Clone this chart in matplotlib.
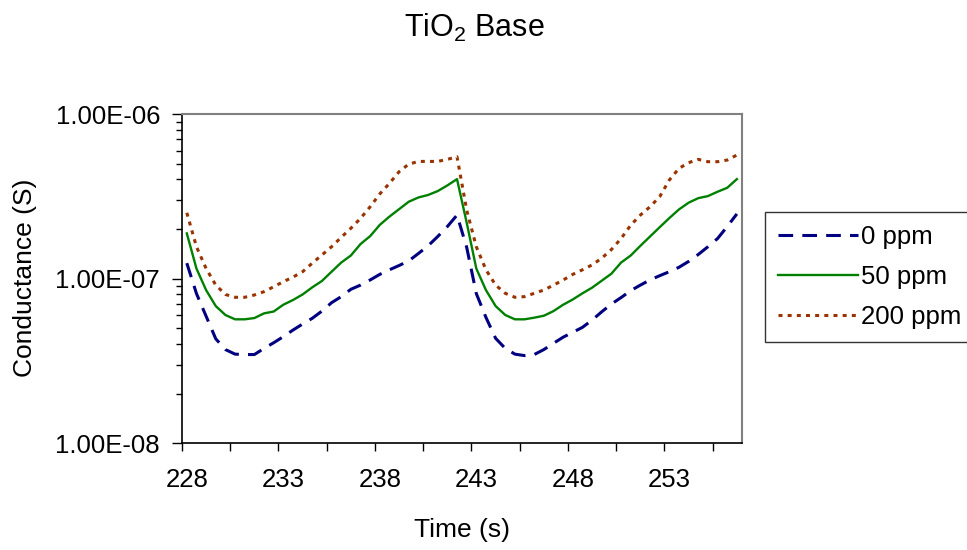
import numpy as np
import matplotlib
matplotlib.use('Agg')
import matplotlib.pyplot as plt
from matplotlib.ticker import FixedLocator, FuncFormatter, LogLocator, NullFormatter

plt.rcParams['font.family'] = ['Liberation Sans', 'DejaVu Sans']
plt.rcParams['mathtext.fontset'] = 'custom'
plt.rcParams['mathtext.rm'] = 'Liberation Sans'
plt.rcParams['mathtext.default'] = 'regular'

# time points (s), one every half second
time = [228, 228.5, 229, 229.5, 230, 230.5, 231, 231.5, 232, 232.5,
        233, 233.5, 234, 234.5, 235, 235.5, 236, 236.5, 237, 237.5,
        238, 238.5, 239, 239.5, 240, 240.5, 241, 241.5, 242, 242.5,
        243, 243.5, 244, 244.5, 245, 245.5, 246, 246.5, 247, 247.5,
        248, 248.5, 249, 249.5, 250, 250.5, 251, 251.5, 252, 252.5,
        253, 253.5, 254, 254.5, 255, 255.5, 256, 256.5]

ppm_0 = [1.24e-7, 8.1e-8, 5.9e-8, 4.3e-8, 3.7e-8, 3.47e-8, 3.45e-8, 3.45e-8, 3.76e-8, 4.07e-8,
         4.43e-8, 4.86e-8, 5.29e-8, 5.73e-8, 6.34e-8, 7.13e-8, 7.76e-8, 8.6e-8, 9.12e-8, 9.8e-8,
         1.06e-7, 1.13e-7, 1.20e-7, 1.28e-7, 1.42e-7, 1.58e-7, 1.80e-7, 2.07e-7, 2.43e-7, 1.55e-7,
         8.1e-8, 5.8e-8, 4.33e-8, 3.76e-8, 3.47e-8, 3.4e-8, 3.45e-8, 3.7e-8, 4.04e-8, 4.4e-8,
         4.71e-8, 5.05e-8, 5.59e-8, 6.28e-8, 7.0e-8, 7.66e-8, 8.44e-8, 9.12e-8, 9.8e-8, 1.04e-7,
         1.10e-7, 1.17e-7, 1.27e-7, 1.40e-7, 1.56e-7, 1.75e-7, 2.07e-7, 2.47e-7]

ppm_50 = [1.88e-7, 1.15e-7, 8.5e-8, 6.8e-8, 6.0e-8, 5.65e-8, 5.65e-8, 5.75e-8, 6.14e-8, 6.3e-8,
          6.93e-8, 7.4e-8, 8.0e-8, 8.84e-8, 9.66e-8, 1.10e-7, 1.25e-7, 1.38e-7, 1.62e-7, 1.81e-7,
          2.12e-7, 2.38e-7, 2.64e-7, 2.93e-7, 3.11e-7, 3.22e-7, 3.40e-7, 3.68e-7, 4.02e-7, 2.19e-7,
          1.15e-7, 8.5e-8, 6.8e-8, 6.0e-8, 5.65e-8, 5.65e-8, 5.78e-8, 5.94e-8, 6.34e-8, 6.93e-8,
          7.46e-8, 8.13e-8, 8.8e-8, 9.7e-8, 1.07e-7, 1.25e-7, 1.38e-7, 1.58e-7, 1.80e-7, 2.05e-7,
          2.33e-7, 2.63e-7, 2.89e-7, 3.08e-7, 3.17e-7, 3.37e-7, 3.56e-7, 4.02e-7]

ppm_200 = [2.51e-7, 1.56e-7, 1.15e-7, 9.12e-8, 8.0e-8, 7.69e-8, 7.69e-8, 7.94e-8, 8.32e-8, 8.91e-8,
           9.57e-8, 1.02e-7, 1.10e-7, 1.24e-7, 1.39e-7, 1.56e-7, 1.78e-7, 2.02e-7, 2.32e-7, 2.73e-7,
           3.27e-7, 3.79e-7, 4.46e-7, 4.96e-7, 5.15e-7, 5.15e-7, 5.15e-7, 5.3e-7, 5.5e-7, 2.61e-7,
           1.56e-7, 1.13e-7, 9.12e-8, 8.13e-8, 7.69e-8, 7.76e-8, 8.13e-8, 8.51e-8, 9.12e-8, 9.79e-8,
           1.06e-7, 1.13e-7, 1.21e-7, 1.33e-7, 1.50e-7, 1.75e-7, 2.11e-7, 2.43e-7, 2.73e-7, 3.14e-7,
           3.97e-7, 4.67e-7, 5.06e-7, 5.3e-7, 5.13e-7, 5.13e-7, 5.25e-7, 5.63e-7]

labels = ['0 ppm', '50 ppm', '200 ppm']
xtick_labels = [228, 233, 238, 243, 248, 253]

fig = plt.figure(figsize=(9.67, 5.5), dpi=100)
ax = fig.add_axes([0.1882, 0.1945, 0.5788, 0.5982])

ax.plot(time, ppm_0, color='#000080', lw=2.2, dashes=(4.8, 3.0), dash_capstyle='butt',
        label=labels[0])
ax.plot(time, ppm_50, color='#008000', lw=1.7, label=labels[1])
ax.plot(time, ppm_200, color='#993300', lw=2.2, dashes=(1.3, 1.7), dash_capstyle='butt',
        label=labels[2])

ax.set_yscale('log')
ax.set_ylim(1e-8, 1e-6)
ax.set_xlim(227.75, 256.75)

ax.yaxis.set_major_locator(FixedLocator([1e-8, 1e-7, 1e-6]))
ax.yaxis.set_major_formatter(FuncFormatter(lambda v, p: '%.2E' % v))
ax.yaxis.set_minor_locator(LogLocator(base=10, subs=np.arange(2, 10)))
ax.yaxis.set_minor_formatter(NullFormatter())

ax.set_xticks(xtick_labels)
ax.set_xticklabels([str(t) for t in xtick_labels])
ax.set_xticks([227.75 + 2.5 * k for k in range(12)], minor=True)

ax.tick_params(axis='y', which='major', direction='out', length=7.2, width=1, pad=8.6, labelsize=18.5)
ax.tick_params(axis='y', which='minor', direction='out', length=4, width=1)
ax.tick_params(axis='x', which='major', length=0, pad=18, labelsize=18.5)
ax.tick_params(axis='x', which='minor', direction='out', length=5.8, width=1)

for s in ['left', 'bottom']:
    ax.spines[s].set_color('black')
    ax.spines[s].set_linewidth(1.2)
for s in ['top', 'right']:
    ax.spines[s].set_color('#808080')
    ax.spines[s].set_linewidth(1.5)

fig.text(0.491, 1 - 28 / 550, r'TiO$_2$ Base', ha='center', va='center', fontsize=22)
fig.text(462.5 / 967, 1 - 530 / 550, 'Time (s)', ha='center', va='center', fontsize=19)
fig.text(25 / 967, 1 - 278 / 550, 'Conductance (S)', ha='center', va='center',
         rotation=90, fontsize=19)

leg = ax.legend(loc='upper left', bbox_to_anchor=(765 / 967, 1 - 212 / 550),
                bbox_transform=fig.transFigure, borderaxespad=0, fontsize=18.5,
                handlelength=3.1, handletextpad=0.15, labelspacing=0.62,
                borderpad=0.5, fancybox=False, framealpha=1)
leg.get_frame().set_edgecolor('#333333')
leg.get_frame().set_linewidth(1)

fig.savefig('out.png', dpi=100)
